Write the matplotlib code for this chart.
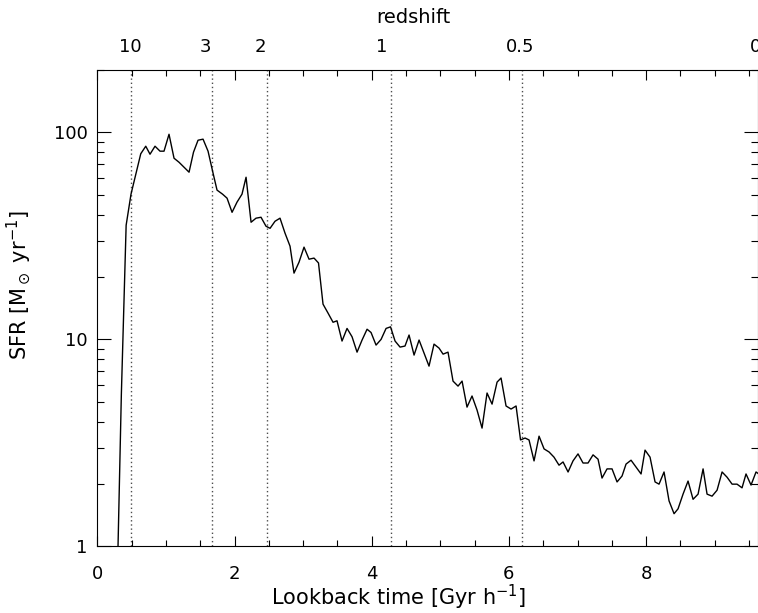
import matplotlib
matplotlib.use("Agg")
import matplotlib.pyplot as plt
from matplotlib.ticker import FixedLocator, NullFormatter

# lookback time [Gyr/h] and SFR [Msun/yr]
time = [0.278, 0.350, 0.420, 0.491, 0.561, 0.633, 0.706, 0.768, 0.841, 0.914,
        0.972, 1.045, 1.118, 1.191, 1.264, 1.337, 1.402, 1.468, 1.541, 1.614,
        1.687, 1.745, 1.825, 1.891, 1.964, 2.036, 2.109, 2.168, 2.241, 2.313,
        2.386, 2.459, 2.518, 2.590, 2.663, 2.736, 2.809, 2.867, 2.940, 3.013,
        3.086, 3.159, 3.224, 3.290, 3.363, 3.436, 3.494, 3.567, 3.640, 3.713,
        3.786, 3.859, 3.932, 3.990, 4.063, 4.136, 4.209, 4.274, 4.340, 4.413,
        4.485, 4.544, 4.617, 4.690, 4.763, 4.835, 4.908, 4.981, 5.040, 5.112,
        5.185, 5.258, 5.317, 5.389, 5.462, 5.535, 5.608, 5.681, 5.754, 5.827,
        5.885, 5.958, 6.031, 6.104, 6.169, 6.235, 6.293, 6.366, 6.439, 6.512,
        6.585, 6.657, 6.730, 6.789, 6.862, 6.934, 7.007, 7.080, 7.153, 7.226,
        7.299, 7.357, 7.430, 7.503, 7.576, 7.649, 7.707, 7.780, 7.853, 7.926,
        7.984, 8.057, 8.130, 8.188, 8.261, 8.334, 8.407, 8.465, 8.538, 8.611,
        8.684, 8.757, 8.830, 8.888, 8.961, 9.034, 9.107, 9.180, 9.253, 9.325,
        9.398, 9.456, 9.529, 9.602, 9.675]
sfr = [0.44, 5.39, 35.6, 50.3, 62.8, 78.8, 85.7, 78.4, 85.7, 81.1,
       81.1, 97.9, 75.0, 71.7, 67.9, 64.2, 80.2, 91.6, 92.7, 81.1,
       63.5, 52.6, 50.3, 48.1, 41.1, 46.0, 50.3, 60.7, 36.8, 38.5,
       38.9, 35.2, 34.4, 37.2, 38.5, 32.6, 28.2, 20.9, 23.6, 27.9,
       24.4, 24.7, 23.4, 14.8, 13.4, 12.1, 12.3, 9.82, 11.3, 10.3,
       8.68, 9.93, 11.2, 10.8, 9.39, 10.0, 11.3, 11.5, 9.82, 9.18,
       9.29, 10.5, 8.40, 9.93, 8.59, 7.43, 9.49, 9.08, 8.49, 8.68,
       6.29, 5.95, 6.29, 4.71, 5.33, 4.56, 3.73, 5.51, 4.87, 6.22,
       6.51, 4.77, 4.61, 4.77, 3.27, 3.34, 3.27, 2.59, 3.41, 2.96,
       2.86, 2.70, 2.47, 2.56, 2.29, 2.59, 2.80, 2.53, 2.53, 2.77,
       2.64, 2.14, 2.37, 2.37, 2.05, 2.19, 2.50, 2.61, 2.42, 2.24,
       2.92, 2.70, 2.05, 2.00, 2.29, 1.66, 1.44, 1.52, 1.79, 2.07,
       1.69, 1.79, 2.37, 1.79, 1.75, 1.87, 2.29, 2.16, 2.00, 2.00,
       1.92, 2.24, 1.98, 2.29, 2.20]

# redshift markers: lookback time of each line and where its label sits
z_labels = ["10", "3", "2", "1", "0.5", "0"]
z_lines = [0.491, 1.668, 2.469, 4.277, 6.195]
z_text_x = [0.48, 1.57, 2.37, 4.15, 6.16, 9.59]

x_major = [0, 2, 4, 6, 8]
y_major = [1, 10, 100]
y_major_labels = ["1", "10", "100"]

plt.rcParams["font.family"] = "DejaVu Sans"
plt.rcParams["mathtext.fontset"] = "dejavusans"

fig = plt.figure(figsize=(7.58, 6.13), dpi=100)
ax = fig.add_axes([0.1284, 0.1085, 0.8710, 0.7773])

for xz in z_lines:
    ax.axvline(xz, color="0.3", lw=1.0, linestyle=(0, (1, 2)), zorder=1)

ax.plot(time, sfr, color="black", lw=1.0, zorder=2)

ax.set_yscale("log")
ax.set_xlim(0, 9.624)
ax.set_ylim(1, 200)

ax.xaxis.set_major_locator(FixedLocator(x_major))
ax.xaxis.set_minor_locator(FixedLocator([i * 0.5 for i in range(20)]))
ax.set_xticklabels([str(v) for v in x_major])
ax.yaxis.set_major_locator(FixedLocator(y_major))
ax.set_yticklabels(y_major_labels)
ax.yaxis.set_minor_locator(FixedLocator([m * 10 ** d for d in range(3) for m in range(2, 10)]))
ax.yaxis.set_minor_formatter(NullFormatter())

ax.tick_params(axis="x", which="major", direction="in", length=7, width=0.8,
               top=True, labelsize=13, pad=13)
ax.tick_params(axis="x", which="minor", direction="in", length=4, width=0.8, top=True)
ax.tick_params(axis="y", which="major", direction="in", length=10, width=0.8,
               right=True, labelsize=13, pad=7)
ax.tick_params(axis="y", which="minor", direction="in", length=5, width=0.8, right=True)
for s in ax.spines.values():
    s.set_linewidth(0.8)

ax.set_xlabel("Lookback time [Gyr h$^{-1}$]", fontsize=15)
ax.xaxis.set_label_coords(0.457, -0.076)
ax.set_ylabel("SFR [M$_\\odot$ yr$^{-1}$]", fontsize=15)
ax.yaxis.set_label_coords(-0.098, 0.549)

trans = ax.get_xaxis_transform()
for lab, xt in zip(z_labels, z_text_x):
    ax.text(xt, 1.048, lab, transform=trans, ha="center", va="center",
            fontsize=13, clip_on=False)
ax.text(4.6, 1.111, "redshift", transform=trans, ha="center", va="center", fontsize=14)

fig.savefig("out.png", dpi=100)
